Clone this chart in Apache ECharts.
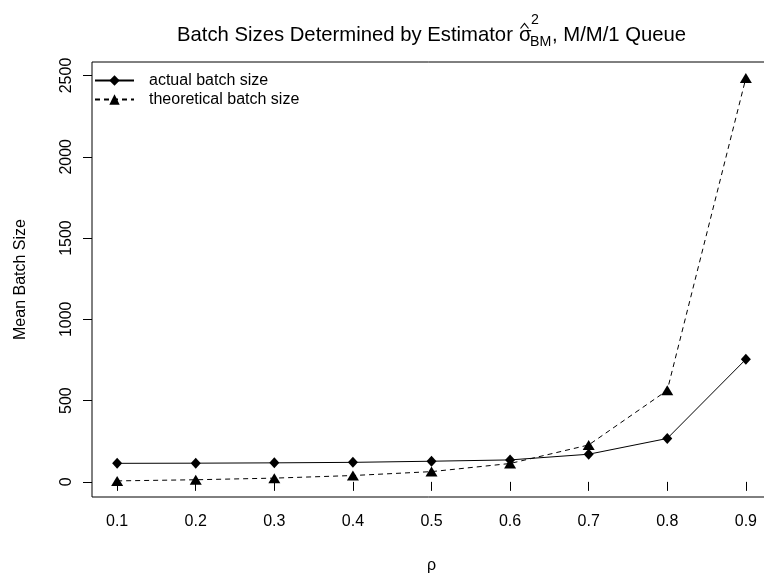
<!DOCTYPE html>
<html><head><meta charset="utf-8">
<script src="https://cdn.jsdelivr.net/npm/echarts@6/dist/echarts.min.js"></script>
<style>html,body{margin:0;padding:0;background:#fff}#c{width:764px;height:587px}</style>
</head><body><div id="c"></div>
<script>
const rho = [0.1, 0.2, 0.3, 0.4, 0.5, 0.6, 0.7, 0.8, 0.9];
const actualBatch = [114, 115, 117, 120, 127, 135, 170, 267, 754];
const theoreticalBatch = [6, 13, 23, 39, 63, 113, 227, 563, 2484];
const xTicks = [0.1, 0.2, 0.3, 0.4, 0.5, 0.6, 0.7, 0.8, 0.9];
const yTicks = [0, 500, 1000, 1500, 2000, 2500];
const seriesNames = ['actual batch size', 'theoretical batch size'];

const FONT = '"Liberation Sans", Arial, Helvetica, sans-serif';
// R-style 4% axis extension
const xs = rho, ysAll = actualBatch.concat(theoreticalBatch);
const xmin0 = Math.min(...xs), xmax0 = Math.max(...xs);
const ymin0 = Math.min(...ysAll), ymax0 = Math.max(...ysAll);
const xPad = (xmax0 - xmin0) * 0.04, yPad = (ymax0 - ymin0) * 0.04;

const chart = echarts.init(document.getElementById('c'), null, {renderer: 'canvas'});
chart.setOption({
  animation: false,
  backgroundColor: '#fff',
  textStyle: {fontFamily: FONT},
  grid: {left: 92, right: -7, top: 62, bottom: 90, show: true, borderColor: '#000', borderWidth: 1, outerBoundsMode: 'none', containLabel: false},
  xAxis: {
    type: 'value', min: xmin0 - xPad, max: xmax0 + xPad,
    splitLine: {show: false},
    axisLine: {show: false},
    axisTick: {show: true, inside: false, length: 9, customValues: xTicks, lineStyle: {color: '#000', width: 1}},
    axisLabel: {show: true, margin: 17, customValues: xTicks, color: '#000', fontSize: 16, fontFamily: FONT, formatter: v => String(v)},
    name: 'ρ', nameLocation: 'middle', nameGap: 61,
    nameTextStyle: {color: '#000', fontSize: 16, fontFamily: FONT}
  },
  yAxis: {
    type: 'value', min: ymin0 - yPad, max: ymax0 + yPad,
    splitLine: {show: false},
    axisLine: {show: false},
    axisTick: {show: true, inside: false, length: 9, customValues: yTicks, lineStyle: {color: '#000', width: 1}},
    axisLabel: {show: true, margin: 17, rotate: 90, customValues: yTicks, color: '#000', fontSize: 16, fontFamily: FONT, formatter: v => String(v)},
    name: 'Mean Batch Size', nameLocation: 'middle', nameGap: 63, nameRotate: 90,
    nameTextStyle: {color: '#000', fontSize: 16, fontFamily: FONT}
  },
  legend: {
    show: true, orient: 'vertical', left: 94, top: 71, padding: 0,
    itemWidth: 39, itemHeight: 13, itemGap: 0, selectedMode: false,
    data: seriesNames,
    textStyle: {color: '#000', fontSize: 16, fontFamily: FONT, lineHeight: 19, padding: [0, 0, 0, 10]}
  },
  series: [
    {
      name: seriesNames[0], type: 'line',
      data: rho.map((r, i) => [r, actualBatch[i]]),
      symbol: 'diamond', symbolSize: [10, 11],
      itemStyle: {color: '#000'},
      lineStyle: {color: '#000', width: 1, type: 'solid'},
      clip: false
    },
    {
      name: seriesNames[1], type: 'line',
      data: rho.map((r, i) => [r, theoreticalBatch[i]]),
      symbol: 'triangle', symbolSize: [12, 10],
      itemStyle: {color: '#000'},
      lineStyle: {color: '#000', width: 1, type: [5, 4]},
      clip: false
    }
  ],
  graphic: [
    {type: 'text', x: 177, y: 35, style: {text: 'Batch Sizes Determined by Estimator', font: '20.3px ' + FONT, fill: '#000', align: 'left', verticalAlign: 'middle'}},
    {type: 'text', x: 519, y: 35, style: {text: 'σ', font: '20.3px ' + FONT, fill: '#000', align: 'left', verticalAlign: 'middle'}},
    {type: 'polyline', shape: {points: [[520.5, 28.5], [524.5, 23.5], [528.5, 28.5]]}, style: {stroke: '#000', lineWidth: 1.2, fill: null}},
    {type: 'text', x: 531, y: 20, style: {text: '2', font: '14.2px ' + FONT, fill: '#000', align: 'left', verticalAlign: 'middle'}},
    {type: 'text', x: 530, y: 42, style: {text: 'BM', font: '14.2px ' + FONT, fill: '#000', align: 'left', verticalAlign: 'middle'}},
    {type: 'text', x: 552, y: 35, style: {text: ', M/M/1 Queue', font: '20.3px ' + FONT, fill: '#000', align: 'left', verticalAlign: 'middle'}}
  ]
});
</script></body></html>
